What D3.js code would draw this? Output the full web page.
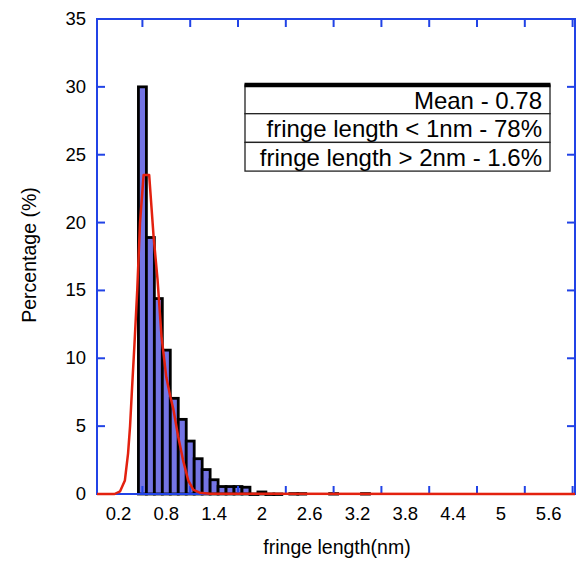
<!DOCTYPE html>
<html>
<head>
<meta charset="utf-8">
<script src="https://cdn.jsdelivr.net/npm/d3@7"></script>
<style>
  body { margin: 0; background: #fff; }
  text { font-family: "Liberation Sans", Arial, sans-serif; fill: #000; }
</style>
</head>
<body>
<svg id="chart"></svg>
<script>
// histogram bins (nm, bin centre) and percentage in each
const binCenters = [0.5, 0.6, 0.7, 0.8, 0.9, 1.0, 1.1, 1.2, 1.3, 1.4, 1.5, 1.6, 1.7, 1.8, 1.9, 2.0, 2.1, 2.2, 2.4, 2.5, 2.9, 3.3];
const percentages = [30.0, 18.9, 14.4, 10.6, 7.05, 5.5, 3.9, 2.6, 1.8, 1.05, 0.55, 0.55, 0.55, 0.5, 0, 0.15, 0, 0, 0.03, 0.03, 0.03, 0.03];

// fitted curve (red)
const fitX = [-0.07, 0.15, 0.22, 0.28, 0.32, 0.345, 0.37, 0.40, 0.435, 0.47, 0.515, 0.585, 0.64, 0.69, 0.74, 0.80, 0.85, 0.89, 0.95, 1.01, 1.075, 1.14, 1.22, 1.35, 5.93];
const fitY = [0, 0, 0.2, 1.0, 3.0, 5.0, 7.8, 11.0, 15.0, 20.0, 23.5, 23.5, 19.0, 15.8, 11.6, 8.6, 7.2, 6.2, 4.2, 2.5, 1.0, 0.3, 0.1, 0.02, 0];

// axes
const yTicks = [0, 5, 10, 15, 20, 25, 30, 35];
const xTickLabels = [0.2, 0.8, 1.4, 2, 2.6, 3.2, 3.8, 4.4, 5, 5.6];
const xTickMarks = [0.5, 1.1, 1.7, 2.3, 2.9, 3.5, 4.1, 4.7, 5.3, 5.9];

// stats box
const statLines = ["Mean - 0.78", "fringe length < 1nm - 78%", "fringe length > 2nm - 1.6%"];

class Histogram {
  constructor(_config) {
    this.config = {
      parentElement: _config.parentElement,
      containerWidth: _config.containerWidth || 576,
      containerHeight: _config.containerHeight || 561,
      margin: { top: 19, bottom: 67, right: 1, left: 97 }
    }
    this.initVis();
  }

  initVis() {
    let vis = this;
    vis.width = vis.config.containerWidth - vis.config.margin.left - vis.config.margin.right;
    vis.height = vis.config.containerHeight - vis.config.margin.top - vis.config.margin.bottom;
    vis.axisColor = '#2143e6';

    vis.svg = d3.select(vis.config.parentElement)
        .attr('width', vis.config.containerWidth)
        .attr('height', vis.config.containerHeight);

    vis.chart = vis.svg.append('g')
        .attr('transform', `translate(${vis.config.margin.left},${vis.config.margin.top})`);

    vis.xScale = d3.scaleLinear()
        .domain([-0.07, 5.93])
        .range([0, vis.width]);

    vis.yScale = d3.scaleLinear()
        .domain([0, 35])
        .range([vis.height, 0]);

    vis.bars = vis.chart.append('g');
    vis.axes = vis.chart.append('g');
    vis.curve = vis.chart.append('g');

    // axis titles
    vis.svg.append('text')
        .attr('text-anchor', 'middle')
        .attr('x', 337)
        .attr('y', 554)
        .style('font-size', '19.5px')
        .text('fringe length(nm)');

    vis.svg.append('text')
        .attr('text-anchor', 'middle')
        .attr('transform', 'translate(36,255) rotate(-90)')
        .style('font-size', '19.5px')
        .text('Percentage (%)');

    vis.updateVis();
  }

  updateVis() {
    let vis = this;
    const bw = vis.xScale(0.1) - vis.xScale(0);

    vis.bars.selectAll('.bar')
        .data(binCenters)
      .join('rect')
        .attr('class', 'bar')
        .attr('x', d => vis.xScale(d - 0.05))
        .attr('width', bw)
        .attr('y', (d, i) => vis.yScale(percentages[i]))
        .attr('height', (d, i) => Math.max(0.5, vis.height - vis.yScale(percentages[i])))
        .attr('fill', '#7474e4')
        .attr('stroke', '#000')
        .attr('stroke-width', 2.8);

    // frame
    vis.axes.append('rect')
        .attr('width', vis.width)
        .attr('height', vis.height)
        .attr('fill', 'none')
        .attr('stroke', vis.axisColor)
        .attr('stroke-width', 2);

    // y ticks left + right (inward)
    vis.axes.selectAll('.ytick')
        .data(yTicks)
      .join('line')
        .attr('class', 'ytick')
        .attr('x1', 0).attr('x2', 8)
        .attr('y1', d => vis.yScale(d)).attr('y2', d => vis.yScale(d))
        .attr('stroke', vis.axisColor).attr('stroke-width', 2);

    vis.axes.selectAll('.ytickR')
        .data(yTicks)
      .join('line')
        .attr('class', 'ytickR')
        .attr('x1', vis.width).attr('x2', vis.width - 8)
        .attr('y1', d => vis.yScale(d)).attr('y2', d => vis.yScale(d))
        .attr('stroke', vis.axisColor).attr('stroke-width', 2);

    vis.axes.selectAll('.ylabel')
        .data(yTicks)
      .join('text')
        .attr('class', 'ylabel')
        .attr('text-anchor', 'end')
        .attr('x', -11)
        .attr('y', d => vis.yScale(d) + 6)
        .style('font-size', '18.5px')
        .text(d => d);

    // x ticks bottom + top (inward)
    vis.axes.selectAll('.xtick')
        .data(xTickMarks)
      .join('line')
        .attr('class', 'xtick')
        .attr('x1', d => vis.xScale(d)).attr('x2', d => vis.xScale(d))
        .attr('y1', vis.height).attr('y2', vis.height - 8)
        .attr('stroke', vis.axisColor).attr('stroke-width', 2);

    vis.axes.selectAll('.xtickT')
        .data(xTickMarks)
      .join('line')
        .attr('class', 'xtickT')
        .attr('x1', d => vis.xScale(d)).attr('x2', d => vis.xScale(d))
        .attr('y1', 0).attr('y2', 8)
        .attr('stroke', vis.axisColor).attr('stroke-width', 2);

    vis.axes.selectAll('.xlabel')
        .data(xTickLabels)
      .join('text')
        .attr('class', 'xlabel')
        .attr('text-anchor', 'middle')
        .attr('x', d => vis.xScale(d))
        .attr('y', vis.height + 26)
        .style('font-size', '18.5px')
        .text(d => d);

    // fitted curve
    const line = d3.line()
        .x(d => vis.xScale(d[0]))
        .y(d => vis.yScale(d[1]));
    vis.curve.append('path')
        .datum(fitX.map((x, i) => [x, fitY[i]]))
        .attr('fill', 'none')
        .attr('stroke', '#e3210f')
        .attr('stroke-width', 2.5)
        .attr('stroke-linejoin', 'round')
        .attr('d', line);

    vis.renderTable();
  }

  renderTable() {
    let vis = this;
    const box = { x: 245, y: 85, w: 305, rowH: 28.7 };
    const g = vis.svg.append('g');

    g.selectAll('.row')
        .data(statLines)
      .join('rect')
        .attr('class', 'row')
        .attr('x', box.x)
        .attr('y', (d, i) => box.y + i * box.rowH)
        .attr('width', box.w)
        .attr('height', box.rowH)
        .attr('fill', '#fff')
        .attr('stroke', '#222')
        .attr('stroke-width', 1.3);

    g.append('line')
        .attr('x1', box.x - 0.5).attr('x2', box.x + box.w + 0.5)
        .attr('y1', box.y).attr('y2', box.y)
        .attr('stroke', '#000').attr('stroke-width', 4.5);

    g.selectAll('.stat')
        .data(statLines)
      .join('text')
        .attr('class', 'stat')
        .attr('text-anchor', 'end')
        .attr('x', box.x + box.w - 8)
        .attr('y', (d, i) => box.y + (i + 1) * box.rowH - 5)
        .style('font-size', '24px')
        .text(d => d);
  }
}

new Histogram({ parentElement: '#chart' });
</script>
</body>
</html>
